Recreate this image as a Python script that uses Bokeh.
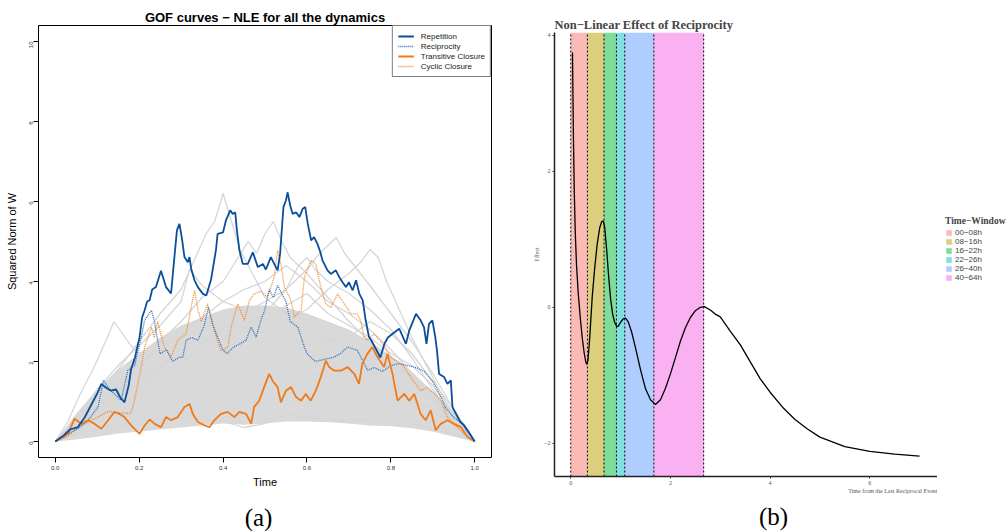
from bokeh.plotting import figure
from bokeh.models import (Range1d, FixedTicker, Legend, LegendItem, PrintfTickFormatter)
from bokeh.core.properties import value
from bokeh.layouts import row, column
from bokeh.embed import file_html
from bokeh.resources import INLINE
from math import pi

# ------------------------------------------------------------------ panel (a) data
core_x = [0, .05, .1, .15, .2, .25, .3, .35, .4, .45, .5, .55, .6, .65, .7, .75, .8, .85, .9, .95, 1.0]
core_low = [0, .05, .12, .2, .25, .3, .35, .4, .45, .42, .45, .5, .5, .48, .45, .4, .38, .33, .25, .12, 0]
core_high = [0, .7, 1.3, 1.8, 2.2, 2.6, 2.9, 3.1, 3.3, 3.4, 3.4, 3.35, 3.2, 3.0, 2.8, 2.5, 2.15, 1.75, 1.25, .75, 0]

gray_xs = [
    [0, .05, .1, .15, .2, .25, .3, .33, .36, .38, .40, .42, .44, .47, .5, .55, .6, .65, .7, .75, .8, .85, .9, .95, 1],
    [0, .05, .1, .15, .2, .25, .3, .35, .4, .43, .46, .48, .5, .52, .54, .56, .6, .65, .7, .75, .8, .85, .9, .95, 1],
    [0, .05, .1, .2, .3, .4, .5, .6, .65, .7, .73, .75, .77, .79, .82, .85, .88, .9, .93, .96, 1],
    [0, .03, .06, .09, .12, .14, .16, .18, .2, .25, .3, .35, .4, .45, .5, .55, .6, .7, .8, .9, .95, 1],
    [0, .05, .1, .2, .3, .4, .45, .5, .55, .6, .63, .65, .67, .69, .72, .75, .8, .85, .9, .95, 1],
    [0, .05, .1, .15, .2, .25, .3, .32, .35, .4, .45, .5, .55, .6, .65, .7, .75, .8, .85, .9, .95, 1],
    [0, .05, .1, .15, .2, .25, .3, .35, .4, .45, .5, .55, .6, .65, .7, .75, .8, .85, .9, .95, 1],
    [0, .05, .1, .2, .3, .4, .45, .5, .55, .6, .7, .8, .9, .95, 1],
    [0, .1, .2, .3, .35, .4, .5, .6, .7, .75, .8, .85, .9, .95, 1],
    [0, .1, .2, .3, .4, .5, .55, .58, .6, .62, .65, .7, .75, .8, .85, .9, .95, 1],
]
gray_ys = [
    [0, .5, 1.2, 1.8, 2.5, 3.2, 3.8, 4.5, 5.2, 5.5, 6.2, 5.5, 4.8, 4.2, 3.6, 3.2, 3.0, 2.6, 2.2, 1.8, 1.4, 1.1, .8, .4, 0],
    [0, .3, .8, 1.3, 1.8, 2.5, 3.0, 3.6, 4.0, 4.5, 5.0, 4.7, 5.2, 5.5, 5.0, 4.6, 4.2, 3.6, 3.0, 2.5, 2.0, 1.6, 1.0, .5, 0],
    [0, .2, .6, 1.2, 1.8, 2.3, 2.8, 3.3, 3.8, 4.2, 4.5, 4.8, 4.6, 4.0, 3.3, 2.6, 2.0, 1.6, 1.0, .5, 0],
    [0, .5, 1.2, 1.8, 2.5, 3.0, 2.7, 2.4, 2.2, 2.5, 2.3, 2.6, 2.3, 2.0, 2.2, 1.9, 1.7, 1.5, 1.2, .8, .4, 0],
    [0, .4, .9, 1.6, 2.2, 2.8, 3.2, 3.5, 3.8, 4.3, 4.7, 4.9, 5.1, 4.7, 4.3, 3.9, 3.2, 2.5, 1.7, .8, 0],
    [0, .6, 1.3, 1.9, 2.4, 2.9, 3.5, 4.3, 3.9, 3.5, 3.8, 4.0, 4.4, 4.0, 3.5, 3.2, 2.8, 2.3, 1.7, 1.1, .6, 0],
    [0, .4, .9, 1.4, 2.0, 2.3, 2.7, 3.1, 3.5, 3.3, 3.0, 3.4, 3.7, 3.2, 2.9, 2.6, 2.2, 1.9, 1.4, .7, 0],
    [0, .2, .3, .5, .6, .5, .35, .45, .7, .6, .5, .6, .3, .2, 0],
    [0, .8, 1.5, 2.2, 2.8, 3.0, 2.7, 2.4, 2.6, 3.0, 2.7, 2.2, 1.5, .8, 0],
    [0, .7, 1.4, 2.0, 2.6, 3.2, 3.8, 4.4, 4.6, 4.3, 4.0, 3.7, 3.3, 2.8, 2.1, 1.3, .6, 0],
]

rep_x = [0, .02, .035, .054, .07, .085, .10, .11, .12, .133, .145, .155, .165, .175, .181, .19, .201, .207,
         .213, .219, .225, .231, .24, .252, .264, .276, .284, .29, .296, .302, .308, .316, .32, .324, .332,
         .34, .352, .36, .371, .383, .387, .40, .407, .417, .423, .429, .433, .439, .447, .459, .471, .483,
         .495, .502, .514, .522, .53, .536, .54, .544, .55, .554, .56, .566, .574, .582, .59, .596, .602,
         .61, .617, .625, .632, .637, .649, .657, .669, .677, .685, .693, .70, .709, .717, .725, .733, .74,
         .748, .755, .765, .775, .785, .793, .805, .82, .836, .844, .86, .871, .879, .885, .891, .899, .906,
         .91, .915, .927, .935, .943, .945, .947, .955, .965, .975, .985, 1.0]
rep_y = [0, .15, .3, .36, .6, .9, 1.2, 1.44, 1.35, 1.27, 1.3, 1.1, .98, 1.4, 1.82, 2.1, 2.61, 3.1,
         3.28, 3.5, 3.53, 3.8, 3.86, 4.27, 3.86, 3.7, 4.61, 5.28, 5.44, 5.07, 4.61, 4.48, 4.61, 4.32, 4.03,
         3.86, 3.69, 3.65, 4.03, 4.78, 5.19, 5.23, 5.53, 5.78, 5.69, 5.73, 5.28, 4.78, 4.44, 4.44, 4.73, 4.36,
         4.44, 4.3, 4.61, 4.44, 4.28, 4.69, 5.28, 5.86, 6.03, 6.23, 5.9, 5.69, 5.73, 5.61, 5.82, 5.86, 5.44,
         5.03, 5.11, 4.94, 4.73, 4.53, 4.28, 4.19, 4.28, 4.11, 3.98, 3.86, 3.98, 3.78, 4.03, 3.69, 3.53, 3.03,
         2.61, 2.5, 2.3, 2.1, 2.45, 2.6, 2.7, 2.82, 2.44, 2.78, 3.19, 3.03, 2.86, 2.44, 2.94, 3.03, 2.61,
         2.28, 1.69, 1.61, 1.44, 1.53, 1.19, .86, .7, .5, .4, .25, 0]

rec_x = [0, .03, .054, .078, .102, .115, .125, .141, .157, .173, .189, .205, .213, .229, .236, .244, .25,
         .265, .28, .295, .304, .312, .325, .34, .355, .365, .375, .387, .40, .41, .425, .44, .455, .467,
         .479, .49, .50, .51, .52, .53, .54, .55, .56, .578, .594, .60, .62, .64, .665, .68, .697, .72, .745,
         .76, .78, .80, .82, .84, .86, .88, .90, .92, .93, .95, .97, .985, 1.0]
rec_y = [0, .19, .32, .53, .86, 1.53, 1.36, 1.19, 1.03, 1.78, 1.9, 2.61, 3.03, 3.28, 3.03, 2.53, 2.19,
         2.3, 2.0, 2.1, 2.11, 2.53, 2.6, 2.53, 2.9, 3.36, 2.94, 2.61, 2.28, 2.2, 2.36, 2.44, 2.53, 2.86,
         2.61, 3.03, 3.3, 3.8, 3.6, 3.9, 3.7, 3.5, 3.0, 2.86, 2.36, 2.2, 2.0, 2.05, 2.11, 2.2, 2.36, 2.28, 1.78,
         1.85, 1.75, 1.9, 1.95, 1.9, 1.85, 1.75, 1.5, 1.1, .85, .6, .45, .2, 0]

tra_x = [0, .03, .046, .062, .078, .094, .11, .126, .141, .153, .165, .181, .201, .213, .225, .237, .252,
         .264, .276, .292, .308, .32, .328, .34, .356, .368, .379, .395, .411, .427, .439, .455, .467, .474,
         .486, .498, .51, .518, .53, .538, .55, .562, .574, .586, .597, .609, .621, .633, .645, .653, .665,
         .681, .697, .713, .724, .732, .744, .756, .768, .784, .792, .804, .816, .832, .844, .856, .871, .883,
         .895, .907, .919, .935, .951, .967, .982, 1.0]
tra_y = [0, .19, .57, .44, .53, .44, .32, .53, .74, .69, .61, .40, .19, .4, .55, .44, .36,
         .61, .53, .61, .86, .94, .69, .49, .40, .36, .53, .69, .74, .61, .74, .69, .44, .86,
         1.02, 1.36, 1.69, 1.52, 1.36, .98, 1.27, 1.36, 1.11, 1.02, 1.19, 1.02, 1.27, 1.61, 2.02, 1.86, 1.77,
         1.77, 1.86, 1.69, 1.44, 1.94, 2.19, 2.36, 2.11, 1.86, 2.19, 1.69, 1.02, 1.19, 1.02, 1.19, .69, .53,
         .78, .28, .44, .53, .44, .36, .12, 0]

cyc_x = [0, .03, .054, .08, .1, .125, .15, .18, .189, .205, .213, .229, .236, .244, .26, .276, .292, .312,
         .324, .332, .34, .348, .363, .379, .395, .411, .42, .435, .451, .463, .474, .49, .506, .522, .53,
         .538, .546, .562, .57, .586, .594, .61, .621, .633, .645, .657, .673, .689, .705, .72, .728, .736,
         .744, .76, .784, .80, .816, .832, .852, .871, .887, .903, .919, .935, .958, .982, 1.0]
cyc_y = [0, .13, .35, .5, .6, .75, .72, .7, 1.03, 1.86, 2.36, 2.86, 2.6, 3.0, 2.36, 2.11, 2.53, 2.69,
         3.36, 3.78, 3.3, 3.0, 3.44, 2.77, 2.27, 2.36, 2.9, 3.44, 3.03, 3.53, 3.69, 3.75, 3.61, 4.11, 4.78,
         4.44, 3.86, 3.53, 3.11, 3.28, 4.11, 4.53, 4.44, 3.86, 3.44, 3.35, 3.69, 3.44, 3.19, 3.19, 3.03, 2.61,
         2.53, 2.69, 2.4, 2.1, 2.0, 1.86, 1.53, 1.27, 1.35, 1.2, 1.02, .6, .36, .12, 0]

series_names = ["Repetition", "Reciprocity", "Transitive Closure", "Cyclic Closure"]
time_ticks = [0.0, 0.2, 0.4, 0.6, 0.8, 1.0]
norm_ticks = [0, 2, 4, 6, 8, 10]

# ------------------------------------------------------------------ panel (b) data
effect_x = [0.034, 0.045, 0.055, 0.07, 0.09, 0.115, 0.15, 0.19, 0.23, 0.27, 0.30, 0.32, 0.345, 0.38, 0.43,
            0.48, 0.53, 0.58, 0.62, 0.65, 0.68, 0.72, 0.76, 0.80, 0.84, 0.88, 0.92, 0.95, 1.00, 1.05, 1.10,
            1.15, 1.22, 1.30, 1.40, 1.50, 1.60, 1.70, 1.80, 1.90, 2.00, 2.10, 2.20, 2.30, 2.40, 2.50, 2.60,
            2.68, 2.80, 2.90, 3.00, 3.20, 3.40, 3.60, 3.80, 4.00, 4.25, 4.50, 4.75, 5.00, 5.50, 6.00, 6.50, 7.00]
effect_y = [3.75, 3.0, 2.4, 1.7, 1.1, 0.62, 0.2, -0.15, -0.45, -0.68, -0.80, -0.84, -0.78, -0.45, 0.15,
            0.58, 0.93, 1.17, 1.26, 1.27, 1.18, 0.85, 0.45, 0.12, -0.10, -0.22, -0.28, -0.28, -0.22, -0.17, -0.16,
            -0.21, -0.36, -0.60, -0.92, -1.20, -1.36, -1.43, -1.36, -1.19, -0.98, -0.74, -0.50, -0.30, -0.15, -0.05, 0.0,
            0.01, -0.04, -0.10, -0.14, -0.35, -0.55, -0.80, -1.05, -1.25, -1.47, -1.65, -1.79, -1.91, -2.05, -2.12, -2.16, -2.19]

window_labels = ["00−08h", "08−16h", "16−22h", "22−26h", "26−40h", "40−64h"]
window_start = [0.0, 8 / 24, 16 / 24, 22 / 24, 26 / 24, 40 / 24]
window_end = [8 / 24, 16 / 24, 22 / 24, 26 / 24, 40 / 24, 64 / 24]
window_colors = ["#F8766D", "#B79F00", "#00BA38", "#00BFC4", "#619CFF", "#F564E3"]
window_edges = [0.0, 8 / 24, 16 / 24, 22 / 24, 26 / 24, 40 / 24, 64 / 24]
effect_ticks = [-2, 0, 2, 4]
days_ticks = [0, 2, 4, 6]
effect_xlabel = "Time from the Last Reciprocal Event"

captions = ["(a)", "(b)"]

SANS = "Liberation Sans"
SERIF = "Liberation Serif"
H = 531
A_H = 500          # height of panel (a) plot
B_H = 487          # height of panel (b) plot


def no_frame_align(fig):
    try:
        fig.frame_align = False
    except Exception:
        pass


def blank(fig):
    no_frame_align(fig)
    fig.axis.visible = False
    fig.xgrid.visible = False
    fig.ygrid.visible = False
    fig.outline_line_color = None
    fig.background_fill_color = "white"
    fig.border_fill_color = "white"


# ================================================================== panel (a)
pa = figure(width=500, height=A_H, output_backend="svg", toolbar_location=None,
            x_range=Range1d(-0.04, 1.04), y_range=Range1d(-0.4, 10.4),
            min_border_left=38, min_border_right=9, min_border_top=25, min_border_bottom=A_H - 457,
            title="GOF curves − NLE for all the dynamics")
no_frame_align(pa)
pa.title.align = "center"
pa.title.text_font = SANS
pa.title.text_font_size = "13px"
pa.title.text_font_style = "bold"
pa.title.text_color = "#000000"
pa.title.standoff = 0
try:
    pa.title.vertical_align = "middle"
except Exception:
    pass
pa.xgrid.visible = False
pa.ygrid.visible = False
pa.outline_line_color = "#000000"
pa.outline_line_width = 1
pa.background_fill_color = "white"
pa.border_fill_color = "white"

for ax in (pa.xaxis[0], pa.yaxis[0]):
    ax.axis_line_color = None
    ax.major_tick_in = 0
    ax.major_tick_out = 5
    ax.minor_tick_line_color = None
    ax.major_tick_line_color = "#000000"
    ax.major_label_text_font = SANS
    ax.major_label_text_font_size = "6px"
    ax.major_label_text_color = "#333333"
    ax.axis_label_text_font = SANS
    ax.axis_label_text_font_size = "11px"
    ax.axis_label_text_font_style = "normal"
    ax.axis_label_text_color = "#000000"
pa.xaxis.ticker = FixedTicker(ticks=time_ticks)
pa.xaxis.formatter = PrintfTickFormatter(format="%.1f")
pa.xaxis.major_label_standoff = 3
pa.xaxis.axis_label = "Time"
pa.xaxis.axis_label_standoff = 3
pa.yaxis.ticker = FixedTicker(ticks=norm_ticks)
pa.yaxis.major_label_orientation = pi / 2
pa.yaxis.major_label_standoff = 3
pa.yaxis.axis_label = "Squared Norm of W"
pa.yaxis.axis_label_standoff = 6

pa.varea(x=core_x, y1=core_low, y2=core_high, fill_color="#D9D9D9", fill_alpha=1.0)
pa.multi_line(xs=gray_xs, ys=gray_ys, line_color="#D6D6D6", line_width=1.3)

r_cyc = pa.line(cyc_x, cyc_y, line_color="#F28A2E", line_width=1.3, line_dash="1 1")
r_rec = pa.line(rec_x, rec_y, line_color="#2E6DB4", line_width=1.3, line_dash="1 1")
r_tra = pa.line(tra_x, tra_y, line_color="#F07A1A", line_width=1.8)
r_rep = pa.line(rep_x, rep_y, line_color="#0B4F9C", line_width=1.8)

leg_a = Legend(items=[LegendItem(label=series_names[0], renderers=[r_rep]),
                      LegendItem(label=series_names[1], renderers=[r_rec]),
                      LegendItem(label=series_names[2], renderers=[r_tra]),
                      LegendItem(label=series_names[3], renderers=[r_cyc])],
               location="top_right", margin=0, padding=5, spacing=0,
               label_height=10, glyph_height=10, glyph_width=16, label_standoff=7,
               label_text_font=SANS, label_text_font_size="8px", label_text_color="#222222",
               border_line_color="#000000", border_line_width=1, background_fill_alpha=1.0)
pa.add_layout(leg_a)

cap_a = figure(width=500, height=H - A_H, output_backend="svg", toolbar_location=None,
               x_range=Range1d(0, 500), y_range=Range1d(0, H - A_H),
               min_border_left=0, min_border_right=0, min_border_top=0, min_border_bottom=0)
blank(cap_a)
cap_a.text(x=[258], y=[14], text=[captions[0]], text_align="center", text_baseline="middle",
           text_font=value(SERIF), text_font_size="25px", text_color="#000000")

# ================================================================== panel (b)
y0b, y1b = -2.49, 4.044
x0b, x1b = -0.327, 7.36
pb = figure(width=437, height=B_H, output_backend="svg", toolbar_location=None,
            x_range=Range1d(x0b, x1b), y_range=Range1d(y0b, y1b),
            min_border_left=54, min_border_right=0, min_border_top=32, min_border_bottom=B_H - 476,
            title="Non−Linear Effect of Reciprocity")
no_frame_align(pb)
pb.title.align = "left"
pb.title.text_font = SERIF
pb.title.text_font_size = "12.5px"
pb.title.text_font_style = "bold"
pb.title.standoff = 2
pb.xgrid.visible = False
pb.ygrid.visible = False
pb.outline_line_color = None
pb.background_fill_color = "white"
pb.border_fill_color = "white"

for ax in (pb.xaxis[0], pb.yaxis[0]):
    ax.axis_line_color = "#222222"
    ax.axis_line_width = 1.5
    ax.major_tick_in = 0
    ax.major_tick_out = 2
    ax.minor_tick_line_color = None
    ax.major_tick_line_color = "#333333"
    ax.major_label_text_font = SERIF
    ax.major_label_text_font_size = "6px"
    ax.major_label_text_color = "#555555"
    ax.major_label_standoff = 2
pb.xaxis.ticker = FixedTicker(ticks=days_ticks)
pb.yaxis.ticker = FixedTicker(ticks=effect_ticks)
pb.yaxis.axis_label = "Effect"
pb.yaxis.axis_label_text_font = SERIF
pb.yaxis.axis_label_text_font_size = "6px"
pb.yaxis.axis_label_text_font_style = "normal"
pb.yaxis.axis_label_text_color = "#666666"
pb.yaxis.axis_label_standoff = 1

for s, e, c in zip(window_start, window_end, window_colors):
    pb.quad(left=[s], right=[e], bottom=[y0b], top=[y1b], fill_color=c, fill_alpha=0.5,
            line_color=None)

pb.segment(x0=window_edges, x1=window_edges, y0=[y0b] * len(window_edges), y1=[y1b] * len(window_edges),
           line_color="#000000", line_width=1, line_dash="2 2")
pb.line(effect_x, effect_y, line_color="#000000", line_width=1.3)

cap_b = figure(width=437, height=H - B_H, output_backend="svg", toolbar_location=None,
               x_range=Range1d(0, 437), y_range=Range1d(0, H - B_H),
               min_border_left=0, min_border_right=0, min_border_top=0, min_border_bottom=0)
blank(cap_b)
cap_b.text(x=[437], y=[H - B_H - 3.5], text=[effect_xlabel], text_align="right", text_baseline="middle",
           text_font=value(SERIF), text_font_size="6px", text_color="#555555")
cap_b.text(x=[273], y=[15], text=[captions[1]], text_align="center", text_baseline="middle",
           text_font=value(SERIF), text_font_size="25px", text_color="#000000")

# ================================================================== legend strip for (b)
pc = figure(width=71, height=H, output_backend="svg", toolbar_location=None,
            x_range=Range1d(10, 11), y_range=Range1d(10, 11),
            min_border_left=0, min_border_right=0, min_border_top=0, min_border_bottom=0)
blank(pc)
band_items = []
for lab, s, e, c in zip(window_labels, window_start, window_end, window_colors):
    r = pc.quad(left=[s], right=[e], bottom=[y0b], top=[y1b], fill_color=c, fill_alpha=0.5,
                line_color=None)
    band_items.append(LegendItem(label=lab, renderers=[r]))
leg_b = Legend(items=band_items, title="Time−Window", location=(8, H - 282), margin=0, padding=0,
               spacing=0, label_height=7, glyph_height=7, glyph_width=7, label_standoff=3,
               label_text_font=SANS, label_text_font_size="8px", label_text_color="#444444",
               title_text_font=SERIF, title_text_font_size="9.5px", title_text_font_style="bold",
               title_standoff=2, border_line_color=None, background_fill_alpha=0)
pc.add_layout(leg_b)

layout = row(column(pa, cap_a), column(pb, cap_b), pc)
open("out.html", "w").write(file_html(layout, INLINE))
